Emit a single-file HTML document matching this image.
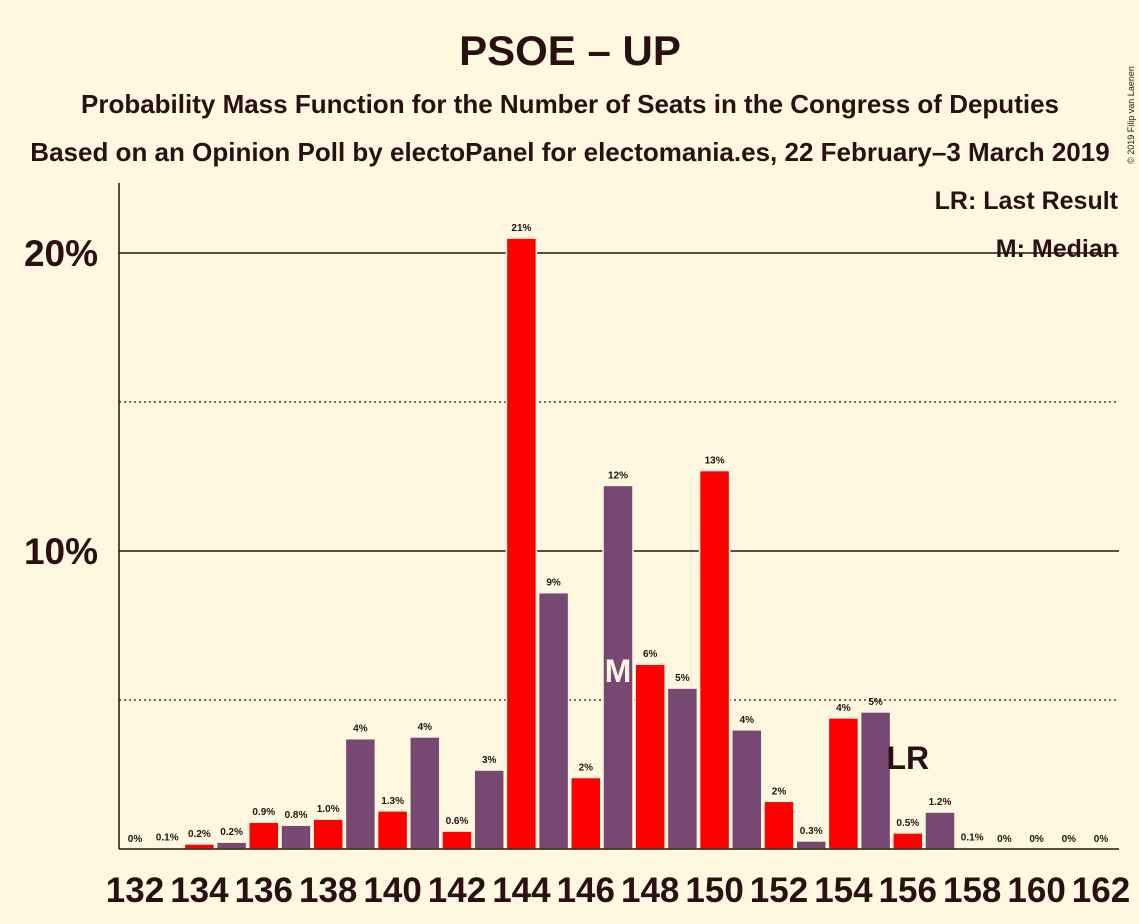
<!DOCTYPE html>
<html><head><meta charset="utf-8"><style>
body{margin:0;background:#fff8e0;}
svg{display:block;font-family:"Liberation Sans",sans-serif;}
</style></head><body>
<svg id="c" width="1139" height="924" viewBox="0 0 1139 924">
<rect width="1139" height="924" fill="#fff8e0"/>
<text x="570" y="65" text-anchor="middle" font-size="42" font-weight="bold" fill="#2a1010">PSOE – UP</text>
<text x="570" y="113" text-anchor="middle" font-size="26" font-weight="bold" fill="#2a1010">Probability Mass Function for the Number of Seats in the Congress of Deputies</text>
<text x="570" y="161" text-anchor="middle" font-size="26" font-weight="bold" fill="#2a1010">Based on an Opinion Poll by electoPanel for electomania.es, 22 February–3 March 2019</text>
<text x="1134" y="115" transform="rotate(-90 1134 115)" text-anchor="middle" font-size="9" fill="#2a1010">© 2019 Filip van Laenen</text>
<g id="grid"></g>
<g id="bars"></g>
<g id="labels"></g>
<line x1="119" y1="183" x2="119" y2="849" stroke="#2a1010" stroke-width="1.5"/>
<line x1="119" y1="849" x2="1119" y2="849" stroke="#2a1010" stroke-width="1.5"/>
<text x="1118" y="209" text-anchor="end" font-size="25" font-weight="bold" fill="#2a1010">LR: Last Result</text>
<text x="1118" y="257" text-anchor="end" font-size="25" font-weight="bold" fill="#2a1010">M: Median</text>
</svg>
<script>
const seats=[132,133,134,135,136,137,138,139,140,141,142,143,144,145,146,147,148,149,150,151,152,153,154,155,156,157,158,159,160,161,162];
const values=[0,0.05,0.17,0.23,0.9,0.8,1.0,3.7,1.28,3.76,0.6,2.65,20.5,8.6,2.4,12.2,6.2,5.4,12.7,4.0,1.6,0.27,4.4,4.6,0.54,1.24,0.05,0,0,0,0];
const valueLabels=["0%","0.1%","0.2%","0.2%","0.9%","0.8%","1.0%","4%","1.3%","4%","0.6%","3%","21%","9%","2%","12%","6%","5%","13%","4%","2%","0.3%","4%","5%","0.5%","1.2%","0.1%","0%","0%","0%","0%"];
const yTicks=[10,20];
const yMinor=[5,15];
const medianSeat=147;
const lastResultSeat=156;
const NS="http://www.w3.org/2000/svg";
const x=s=>135+(s-132)*32.2;
const y=v=>849-v*29.8;
function mk(p,tag,a){const e=document.createElementNS(NS,tag);for(const k in a)e.setAttribute(k,a[k]);document.getElementById(p).appendChild(e);return e;}
yMinor.forEach(t=>{const l=mk('grid','line',{x1:119,x2:1119,y1:y(t),y2:y(t),stroke:'#2a1010','stroke-dasharray':'2,3','stroke-width':1.2});

});
yTicks.forEach(t=>{const l=mk('grid','line',{x1:119,x2:1119,y1:y(t),y2:y(t),stroke:'#2a1010','stroke-width':1.5});


const tx=mk('grid','text',{x:98,y:y(t)+13,'text-anchor':'end','font-size':37,'font-weight':'bold',fill:'#2a1010'});tx.textContent=t+'%';

});
seats.forEach((s,i)=>{const v=values[i];const red=(s%2===0);
if(v>0){const r=mk('bars','rect',{x:x(s)-15,y:y(v),width:30,height:849-y(v),fill:red?'#ff0000':'#774872',stroke:'#fff8e0','stroke-width':1.5});

}
const t=mk('labels','text',{x:x(s),y:y(v)-7,'text-anchor':'middle','font-size':10,'font-weight':'bold',fill:'#2a1010'});t.textContent=valueLabels[i];


if(s%2===0){const k=mk('labels','text',{x:x(s),y:902,'text-anchor':'middle','font-size':35,'font-weight':'bold',fill:'#2a1010'});k.textContent=s;

}});
const m=mk('labels','text',{x:x(medianSeat),y:682,'text-anchor':'middle','font-size':32,'font-weight':'bold',fill:'#fff8e0'});m.textContent='M';


const lr=mk('labels','text',{x:x(lastResultSeat),y:769,'text-anchor':'middle','font-size':32,'font-weight':'bold',fill:'#2a1010'});lr.textContent='LR';


</script>
</body></html>
